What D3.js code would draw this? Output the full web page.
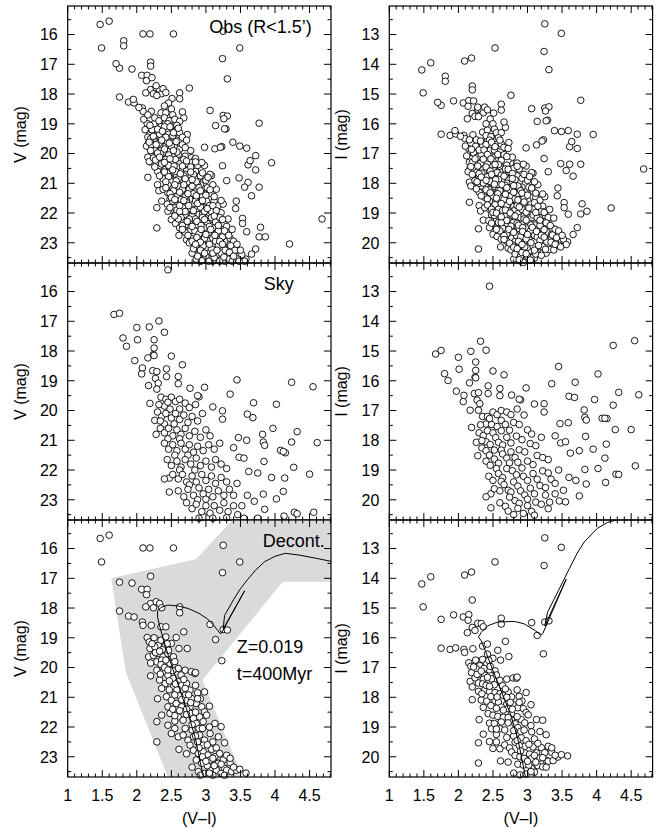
<!DOCTYPE html>
<html>
<head>
<meta charset="utf-8">
<script src="https://cdn.jsdelivr.net/npm/d3@7"></script>
<style>
  html, body { margin: 0; padding: 0; background: #fff; }
  svg { display: block; font-family: "Liberation Sans", Arial, Helvetica, sans-serif; }
</style>
</head>
<body>
<svg id="chart" width="657" height="828"></svg>
<script>
// ---- colour / magnitude data, stored as [V-I, V] ----

// stars kept after field-star decontamination
const decontStars = [
  [1.47,15.66],[1.60,15.55],[1.49,16.45],[2.09,15.98],[2.19,15.98],[2.53,15.98],[3.25,15.89],[3.49,16.45],
  [3.24,16.81],[2.20,16.93],[1.75,17.13],[1.93,17.16],[2.07,17.37],[2.15,17.37],[2.14,17.55],
  [2.20,17.85],[2.28,17.79],[2.33,17.85],[2.24,17.99],[2.36,17.99],[2.13,17.96],[2.62,17.96],[2.62,18.16],
  [1.75,18.10],[1.88,18.27],[1.96,18.30],[2.08,18.47],[2.09,18.58],[2.21,18.58],[2.35,18.63],[2.42,18.63],
  [3.06,18.55],[3.14,19.06],[3.25,18.72],[3.31,18.74],[3.23,19.77],[2.68,18.80],
  [2.15,18.99],[2.18,19.14],[2.29,19.08],[2.31,19.25],[2.35,19.08],[2.42,18.97],[2.57,18.99],[2.41,19.28],
  [2.19,19.36],[2.50,19.19],[2.73,19.36],
  [2.17,19.64],[2.24,19.59],[2.31,19.53],[2.38,19.64],[2.45,19.53],[2.53,19.64],[2.29,19.81],[2.36,19.75],
  [2.48,19.86],[2.60,20.03],[2.70,20.09],[2.79,20.14],[2.84,20.20],[2.20,20.28],
  [2.29,20.09],[2.38,20.14],[2.45,20.26],[2.33,20.42],[2.41,20.54],[2.53,20.37],[2.60,20.48],[2.65,20.59],
  [2.72,20.54],[2.77,20.76],[2.98,20.82],[2.53,20.65],[2.36,20.70],
  [2.43,20.98],[2.50,21.10],[2.57,21.21],[2.70,20.93],[2.72,21.10],[2.79,21.04],[2.86,21.21],[2.94,21.32],
  [2.77,21.32],[2.65,21.32],[2.98,21.49],[2.45,21.32],
  [2.48,21.54],[2.60,21.66],[2.67,21.77],[2.77,21.54],[2.82,21.71],[2.86,21.88],[2.91,21.66],[2.96,21.82],
  [3.01,21.60],[3.13,21.88],[3.22,21.99],[2.29,21.82],[2.45,21.94],[2.55,22.05],
  [2.50,22.22],[2.60,22.33],[2.67,22.27],[2.74,22.44],[2.82,22.33],[2.91,22.27],[2.98,22.44],[3.06,22.22],
  [2.96,22.61],[2.77,22.61],[3.18,22.33],[3.27,22.53],[2.29,22.50],[2.61,22.75],
  [2.82,22.78],[2.89,22.89],[2.96,22.83],[3.03,22.94],[2.86,23.11],[2.94,23.22],[3.13,23.00],[3.20,22.89],
  [3.25,23.11],[3.18,23.22],[3.27,23.39],[3.06,23.11],
  [2.89,23.50],[2.98,23.56],[3.06,23.45],[3.15,23.45],[3.22,23.56],[3.30,23.45],[3.37,23.50],[3.44,23.45],
  [3.49,23.42],[3.27,23.62],
  [2.25,19.00],[2.26,19.30],[2.37,19.40],[2.44,19.20],[2.27,19.50],[2.35,19.90],[2.42,19.75],[2.55,19.80],
  [2.40,20.00],[2.52,20.10],[2.64,20.25],[2.47,20.45],[2.58,20.75],[2.70,20.70],[2.85,20.60],[2.88,20.85],
  [2.62,20.95],[2.52,21.40],[2.62,21.45],[2.72,21.40],[2.85,21.50],[2.92,21.05],[3.05,21.30],[2.55,21.80],
  [2.70,22.05],[2.80,22.10],[2.90,22.05],[3.05,22.00],[3.10,22.50],[2.88,22.50],[2.72,22.90],[3.08,22.75],
  [3.15,22.70],[2.95,23.00],[3.02,23.30],[3.12,23.30],[2.80,23.35],[3.35,23.20],[3.40,23.35],[3.30,22.95],
  [2.92,23.62],[3.10,23.62],[3.58,23.55],[2.36,21.60],[2.30,21.05],[2.61,19.36],[2.85,20.17],
  [2.22,19.20],[2.33,19.45],[2.46,19.42],[2.20,19.85],[2.45,20.08],[2.56,20.55],[2.34,20.22],[2.68,20.40],
  [2.47,20.75],[2.75,20.92],[2.55,20.92],[2.65,21.08],[2.78,21.18],[2.88,21.05],[2.55,21.62],[2.72,21.58],
  [2.80,21.92],[2.95,22.05],[2.85,22.30],[3.02,22.60],[2.90,22.70],[3.10,23.05],[3.00,23.15],[3.22,23.25],
  [3.35,23.05],[3.05,23.55]
];

// stars inside R<1.5' that were removed as field contamination
const fieldStars = [
  [1.81,16.21],[1.81,16.38],[1.70,16.98],[2.20,17.06],[2.22,17.45],[3.31,17.49],[2.76,17.80],[2.51,18.15],
  [1.95,18.18],[2.03,18.45],[2.28,17.72],[2.38,17.82],[2.42,17.95],[2.29,18.05],[2.46,18.30],[2.50,18.50],
  [2.66,18.60],[2.40,18.40],[3.26,18.83],[3.29,19.17],[3.77,18.98],[3.27,19.17],
  [2.98,19.79],[3.13,19.84],[3.21,19.79],[3.39,19.62],[3.49,19.75],[3.59,19.82],[3.72,20.07],[3.61,20.38],
  [3.64,20.24],[3.72,20.55],[3.95,20.31],[2.98,20.40],[3.08,20.74],[3.30,20.91],[3.48,20.82],[3.61,20.97],
  [3.56,21.13],[3.77,21.13],[3.66,21.42],[3.44,21.60],[3.43,21.85],[3.53,22.18],[3.53,22.35],[3.59,22.63],
  [3.79,22.48],[3.77,22.80],[3.86,22.80],[4.21,23.04],[4.68,22.20],[3.72,23.21],[3.66,23.38],[3.24,20.41],
  [2.16,20.12],[2.18,20.27],[2.16,20.80],[2.32,21.25],
  [2.10,18.85],[2.16,18.70],[2.26,18.80],[2.32,18.90],[2.40,18.80],[2.47,18.90],[2.52,18.70],[2.55,18.85],
  [2.45,19.00],[2.62,18.92],[2.58,19.05],
  [2.12,19.20],[2.16,19.45],[2.22,19.20],[2.27,19.40],[2.33,19.35],[2.40,19.10],[2.46,19.35],[2.52,19.40],
  [2.56,19.25],[2.62,19.30],[2.66,19.45],[2.20,19.50],
  [2.14,19.75],[2.21,19.70],[2.26,19.90],[2.32,19.65],[2.40,19.85],[2.44,19.60],[2.50,19.75],[2.57,19.60],
  [2.62,19.85],[2.66,19.70],[2.72,19.55],[2.78,19.90],[2.34,20.00],[2.46,20.05],[2.58,19.95],
  [2.24,20.15],[2.30,20.30],[2.36,20.35],[2.42,20.20],[2.50,20.30],[2.56,20.20],[2.62,20.35],[2.68,20.20],
  [2.74,20.35],[2.80,20.30],[2.88,20.40],[2.46,20.40],[2.58,20.45],[2.94,20.30],
  [2.30,20.60],[2.38,20.85],[2.44,20.65],[2.48,20.85],[2.56,20.60],[2.60,20.85],[2.68,20.75],[2.74,20.95],
  [2.82,20.70],[2.86,20.95],[2.92,20.75],[3.00,20.90],[3.06,20.70],[2.50,20.95],
  [2.38,21.20],[2.45,21.05],[2.53,21.25],[2.60,21.10],[2.66,21.20],[2.70,21.45],[2.76,21.20],[2.82,21.35],
  [2.90,21.15],[2.95,21.45],[3.02,21.15],[3.08,21.35],[3.15,21.20],[2.58,21.45],[3.10,21.05],
  [2.44,21.70],[2.52,21.60],[2.58,21.90],[2.64,21.55],[2.72,21.65],[2.78,21.85],[2.85,21.60],[2.92,21.80],
  [2.98,21.95],[3.05,21.75],[3.12,21.60],[3.18,21.75],[3.25,21.70],[2.70,21.95],[3.08,21.95],
  [2.56,22.35],[2.64,22.15],[2.70,22.40],[2.76,22.20],[2.85,22.20],[2.88,22.40],[2.95,22.15],[3.02,22.35],
  [3.08,22.15],[3.14,22.30],[3.20,22.15],[3.26,22.35],[3.32,22.20],[2.62,22.50],[3.00,22.50],
  [2.70,22.65],[2.78,22.85],[2.84,22.60],[2.90,22.70],[2.98,22.85],[3.04,22.65],[3.10,22.85],[3.18,22.60],
  [3.24,22.80],[3.30,22.65],[3.35,22.85],[3.40,22.95],[2.76,23.00],[3.14,22.95],
  [2.82,23.20],[2.90,23.35],[2.96,23.10],[3.00,23.45],[3.08,23.20],[3.12,23.50],[3.18,23.10],[3.22,23.35],
  [3.28,23.25],[3.32,23.55],[3.36,23.10],[3.42,23.25],[3.46,23.55],[3.52,23.40],[2.94,23.60],[3.04,23.62],
  [3.20,23.62],[3.38,23.62],[3.56,23.62],[2.86,23.55],
  [2.19,19.05],[2.30,19.18],[2.37,19.25],[2.48,19.10],[2.53,19.30],[2.24,19.42],[2.42,19.45],[2.60,19.15],
  [2.18,19.62],[2.28,19.70],[2.36,19.55],[2.47,19.65],[2.53,19.90],[2.70,19.80],[2.20,19.90],[2.30,19.98],
  [2.27,20.22],[2.33,20.12],[2.40,20.30],[2.48,20.18],[2.54,20.42],[2.66,20.42],[2.72,20.25],[2.78,20.45],
  [2.85,20.28],[2.26,20.45],
  [2.33,20.75],[2.40,20.62],[2.46,20.78],[2.52,20.55],[2.57,20.92],[2.63,20.68],[2.70,20.85],[2.78,20.62],
  [2.80,20.88],[2.95,20.65],[3.03,20.80],[2.42,20.95],
  [2.42,21.15],[2.48,21.35],[2.55,21.05],[2.62,21.30],[2.68,21.05],[2.74,21.35],[2.80,21.10],[2.86,21.42],
  [2.92,21.25],[3.00,21.40],[3.06,21.22],[3.12,21.45],[2.50,21.48],
  [2.48,21.82],[2.55,21.55],[2.62,21.75],[2.68,21.58],[2.75,21.75],[2.82,21.92],[2.88,21.68],[2.95,21.58],
  [3.02,21.85],[3.10,21.75],[3.15,21.92],[3.22,21.58],[2.62,21.95],
  [2.60,22.20],[2.66,22.42],[2.73,22.28],[2.80,22.45],[2.87,22.28],[2.93,22.42],[2.98,22.22],[3.05,22.45],
  [3.12,22.10],[3.18,22.42],[3.24,22.22],[3.30,22.45],[2.55,22.10],
  [2.66,22.55],[2.74,22.75],[2.80,22.95],[2.87,22.82],[2.93,22.55],[3.00,22.72],[3.07,22.55],[3.13,22.75],
  [3.20,22.95],[3.27,22.60],[3.33,22.75],[3.38,22.55],[2.92,22.98],
  [2.85,23.05],[2.92,23.25],[2.98,23.35],[3.05,23.05],[3.10,23.35],[3.16,23.25],[3.24,23.05],[3.26,23.48],
  [3.34,23.32],[3.40,23.45],[3.45,23.05],[3.50,23.25],[2.88,23.45],[3.48,23.62]
];

// comparison field ("Sky")
const skyStars = [
  [2.45,15.27],[1.67,16.77],[1.75,16.73],[2.00,17.21],[2.18,17.19],[2.32,16.99],[2.40,17.37],[1.80,17.56],
  [2.01,17.62],[1.85,17.84],[2.25,17.62],[2.25,17.90],[2.24,18.12],[1.97,18.32],[2.08,18.57],[2.07,18.77],
  [2.16,18.23],[2.25,18.15],[2.50,18.17],[2.66,18.46],[2.23,18.66],[2.29,18.69],[2.27,18.92],[2.31,19.08],
  [2.43,18.60],[2.43,18.86],[2.60,18.86],[2.60,19.10],[2.17,19.16],[2.29,19.28],[2.77,19.25],[2.98,19.22],
  [3.45,18.97],[3.35,19.45],[4.24,19.05],[4.55,19.20],[2.90,19.54],[2.88,19.50],
  [2.19,19.76],[2.26,20.33],[2.28,20.80],[3.10,19.88],[3.24,20.01],[3.24,20.29],[3.69,19.74],[3.60,20.12],
  [3.68,20.24],[4.02,19.79],[3.97,20.60],[4.32,20.71],[4.24,21.06],[4.61,21.08],[4.08,21.34],[4.15,21.42],
  [4.12,21.38],[3.82,20.80],[3.83,21.06],[3.85,21.17],[3.84,21.71],[4.27,21.91],[4.50,22.14],[4.14,22.27],
  [3.75,22.10],[4.02,22.97],[4.12,22.72],[3.83,22.81],[3.85,23.32],[4.13,23.55],[4.28,23.42],[4.32,23.47],
  [4.56,23.42],[3.47,20.91],[3.48,21.57],[3.59,21.00],[3.40,21.25],[3.55,21.60],[3.62,22.05],[3.45,22.45],
  [3.60,22.85],[3.70,23.05],[3.52,23.20],[3.95,22.25],[2.47,22.74],[2.47,22.27],
  [2.35,19.55],[2.42,19.62],[2.50,19.55],[2.56,19.70],[2.62,19.62],[2.70,19.75],[2.76,19.90],[2.40,19.85],
  [2.48,19.95],[2.32,19.80],[2.62,19.95],[2.85,19.80],[2.45,19.72],
  [2.30,20.05],[2.36,20.20],[2.42,20.10],[2.50,20.25],[2.56,20.10],[2.62,20.30],[2.68,20.15],[2.74,20.40],
  [2.80,20.20],[2.88,20.35],[2.95,20.10],[2.40,20.45],[2.54,20.45],[2.34,20.35],
  [2.34,20.60],[2.40,20.75],[2.46,20.60],[2.52,20.85],[2.58,20.65],[2.64,20.80],[2.70,20.60],[2.76,20.85],
  [2.84,20.70],[2.92,20.90],[3.00,20.65],[3.06,20.85],[2.45,20.95],[2.62,20.95],
  [2.40,21.10],[2.46,21.30],[2.52,21.15],[2.58,21.35],[2.64,21.10],[2.70,21.30],[2.76,21.15],[2.82,21.40],
  [2.88,21.20],[2.96,21.35],[3.04,21.15],[3.12,21.30],[3.20,21.10],[2.55,21.50],[2.74,21.50],
  [2.44,21.65],[2.50,21.85],[2.58,21.70],[2.64,21.90],[2.70,21.65],[2.78,21.80],[2.86,21.60],[2.92,21.85],
  [3.00,21.70],[3.08,21.90],[3.14,21.65],[3.22,21.80],[2.62,22.00],[2.84,22.00],[3.30,21.95],
  [2.52,22.15],[2.60,22.30],[2.66,22.15],[2.72,22.40],[2.80,22.20],[2.86,22.40],[2.94,22.15],[3.00,22.35],
  [3.08,22.20],[3.14,22.45],[3.22,22.25],[3.30,22.40],[2.76,22.50],[2.40,22.30],
  [2.60,22.70],[2.68,22.90],[2.74,22.65],[2.82,22.85],[2.90,22.60],[2.96,22.80],[3.04,22.65],[3.10,22.90],
  [3.18,22.70],[3.26,22.85],[3.34,22.65],[3.40,22.85],[2.88,23.00],[3.00,22.98],
  [2.72,23.10],[2.80,23.30],[2.86,23.15],[2.94,23.40],[3.00,23.20],[3.06,23.45],[3.12,23.20],[3.20,23.35],
  [3.26,23.10],[3.32,23.40],[3.40,23.20],[3.46,23.50],[2.90,23.62],[3.10,23.62],[3.30,23.60],[3.55,23.62],
  [3.75,23.62]
];

// Z=0.019, t=400 Myr isochrone, V-band track: [V-I, V]
const isochroneV = [
  [2.97,23.75],[2.92,23.20],[2.85,22.40],[2.75,21.60],[2.66,21.00],[2.56,20.30],[2.47,19.70],[2.39,19.10],
  [2.33,18.60],[2.30,18.30],[2.30,18.10],[2.35,17.98],[2.45,17.90],[2.60,17.93],[2.75,18.02],[2.90,18.18],
  [3.02,18.36],[3.12,18.60],[3.20,18.84],[3.22,18.86],[3.56,17.42],[3.25,18.70],[3.27,18.25],[3.40,17.72],
  [3.50,17.35],[3.60,17.05],[3.72,16.72],[3.85,16.44],[4.00,16.26],[4.15,16.16],[4.35,16.22],[4.60,16.33],
  [4.85,16.45]
];

// same isochrone, I-band track: [V-I, I]
const isochroneI = [
  [2.975,20.75],[2.93,20.20],[2.86,19.40],[2.76,18.60],[2.62,17.80],[2.50,17.10],[2.40,16.50],[2.33,16.10],
  [2.29,15.97],[2.33,15.82],[2.42,15.60],[2.57,15.47],[2.81,15.45],[2.95,15.53],[3.10,15.74],[3.19,15.90],
  [3.22,15.86],[3.56,14.03],[3.25,15.60],[3.29,15.14],[3.45,14.40],[3.60,13.70],[3.72,13.15],[3.82,12.78],
  [4.01,12.32],[4.16,12.12],[4.30,12.03],[4.50,11.95]
];

// colour-magnitude filter used for the decontamination: [V-I, V]
const cmdFilter = [
  [1.63,17.00],[2.86,16.35],[3.40,15.00],[4.90,15.00],[4.90,17.12],[4.11,17.12],[2.95,20.42],[3.55,23.80],
  [2.47,23.80],[1.84,20.15]
];

const xTicks = [1, 1.5, 2, 2.5, 3, 3.5, 4, 4.5];
const xTickLabels = ["1", "1.5", "2", "2.5", "3", "3.5", "4", "4.5"];
const vTicks = [16, 17, 18, 19, 20, 21, 22, 23];
const iTicks = [13, 14, 15, 16, 17, 18, 19, 20];
const panelNames = ["Obs (R<1.5\u2019)", "Sky", "Decont."];

// ---- layout ----
const svg = d3.select("#chart");
const colX = [67.7, 389.3];
const plotW = 263.3;
const rowY = [6, 263, 520];
const plotH = 257;
const colorDomain = [1, 4.81];
const vDomain = [15.04, 23.68];
const iDomain = [12.04, 20.68];

const allObs = decontStars.concat(fieldStars);
const rowData = [allObs, skyStars, decontStars];

const defs = svg.append("defs");

function panel(row, col) {
  const x0 = colX[col], y0 = rowY[row];
  const x = d3.scaleLinear().domain(colorDomain).range([x0, x0 + plotW]);
  const yDom = col === 0 ? vDomain : iDomain;
  const y = d3.scaleLinear().domain(yDom).range([y0, y0 + plotH]);
  const g = svg.append("g");
  const clipId = `clip-${row}-${col}`;
  defs.append("clipPath").attr("id", clipId)
    .append("rect").attr("x", x0).attr("y", y0).attr("width", plotW).attr("height", plotH);

  // magnitude on this panel's axis (I = V - (V-I))
  const mag = d => col === 0 ? d[1] : d[1] - d[0];

  if (row === 2 && col === 0) {
    g.append("path")
      .attr("clip-path", `url(#${clipId})`)
      .attr("d", d3.line().x(d => x(d[0])).y(d => y(d[1]))(cmdFilter) + "Z")
      .attr("fill", "#dadada").attr("stroke", "none");
  }

  const stars = rowData[row].filter(d => {
    const m = mag(d);
    return d[0] >= colorDomain[0] && d[0] <= colorDomain[1] && m >= yDom[0] - 0.05 && m <= yDom[1];
  });
  g.append("g").selectAll("circle").data(stars).join("circle")
    .attr("cx", d => x(d[0])).attr("cy", d => y(mag(d)))
    .attr("r", 3.3)
    .attr("fill", "#fff").attr("stroke", "#000").attr("stroke-width", 0.9);

  if (row === 2) {
    const track = col === 0 ? isochroneV : isochroneI;
    g.append("path")
      .attr("clip-path", `url(#${clipId})`)
      .attr("d", d3.line().x(d => x(d[0])).y(d => y(d[1]))(track))
      .attr("fill", "none").attr("stroke", "#000").attr("stroke-width", 1);
  }

  // frame
  g.append("rect").attr("x", x0).attr("y", y0).attr("width", plotW).attr("height", plotH)
    .attr("fill", "none").attr("stroke", "#000").attr("stroke-width", 1.2);

  // inward ticks on all four sides
  const tk = g.append("g").attr("stroke", "#000").attr("stroke-width", 1);
  const minorX = d3.range(10, 49).map(v => v / 10);
  minorX.forEach(v => {
    const major = Math.abs(v * 2 - Math.round(v * 2)) < 1e-6;
    const len = major ? 7 : 3.5;
    const px = x(v);
    tk.append("line").attr("x1", px).attr("x2", px).attr("y1", y0 + plotH).attr("y2", y0 + plotH - len);
    tk.append("line").attr("x1", px).attr("x2", px).attr("y1", y0).attr("y2", y0 + len);
  });
  const yStart = Math.ceil(yDom[0] * 2) / 2;
  const minorY = d3.range(yStart, yDom[1], 0.5);
  minorY.forEach(v => {
    const major = Math.abs(v - Math.round(v)) < 1e-6;
    const len = major ? 7 : 3.5;
    const py = y(v);
    tk.append("line").attr("x1", x0).attr("x2", x0 + len).attr("y1", py).attr("y2", py);
    tk.append("line").attr("x1", x0 + plotW).attr("x2", x0 + plotW - len).attr("y1", py).attr("y2", py);
  });

  // y tick labels
  const yt = col === 0 ? vTicks : iTicks;
  g.append("g").selectAll("text").data(yt).join("text")
    .attr("x", x0 - 10).attr("y", d => y(d)).attr("dy", "0.36em")
    .attr("text-anchor", "end").attr("font-size", 16).text(d => d);

  // y axis title
  g.append("text")
    .attr("transform", `translate(${x0 - 42},${y0 + plotH / 2}) rotate(-90)`)
    .attr("text-anchor", "middle").attr("font-size", 16)
    .text(col === 0 ? "V (mag)" : "I (mag)");

  // x tick labels and title on the bottom row
  if (row === 2) {
    g.append("g").selectAll("text").data(xTicks).join("text")
      .attr("x", d => x(d)).attr("y", y0 + plotH + 24)
      .attr("text-anchor", "middle").attr("font-size", 16)
      .text((d, i) => xTickLabels[i]);
    g.append("text")
      .attr("x", x0 + plotW / 2).attr("y", y0 + plotH + 47)
      .attr("text-anchor", "middle").attr("font-size", 16).text("(V\u2013I)");
  }

  if (col === 0) {
    const labelRight = [x0 + 244, x0 + 226, x0 + 257];
    g.append("text")
      .attr("x", labelRight[row]).attr("y", y0 + 27)
      .attr("text-anchor", "end").attr("font-size", 18).text(panelNames[row]);
    if (row === 2) {
      g.append("text").attr("x", x0 + 169).attr("y", y0 + 133)
        .attr("font-size", 18).text("Z=0.019");
      g.append("text").attr("x", x0 + 169).attr("y", y0 + 160)
        .attr("font-size", 18).text("t=400Myr");
    }
  }
}

for (let r = 0; r < 3; r++) {
  for (let c = 0; c < 2; c++) panel(r, c);
}
</script>
</body>
</html>
